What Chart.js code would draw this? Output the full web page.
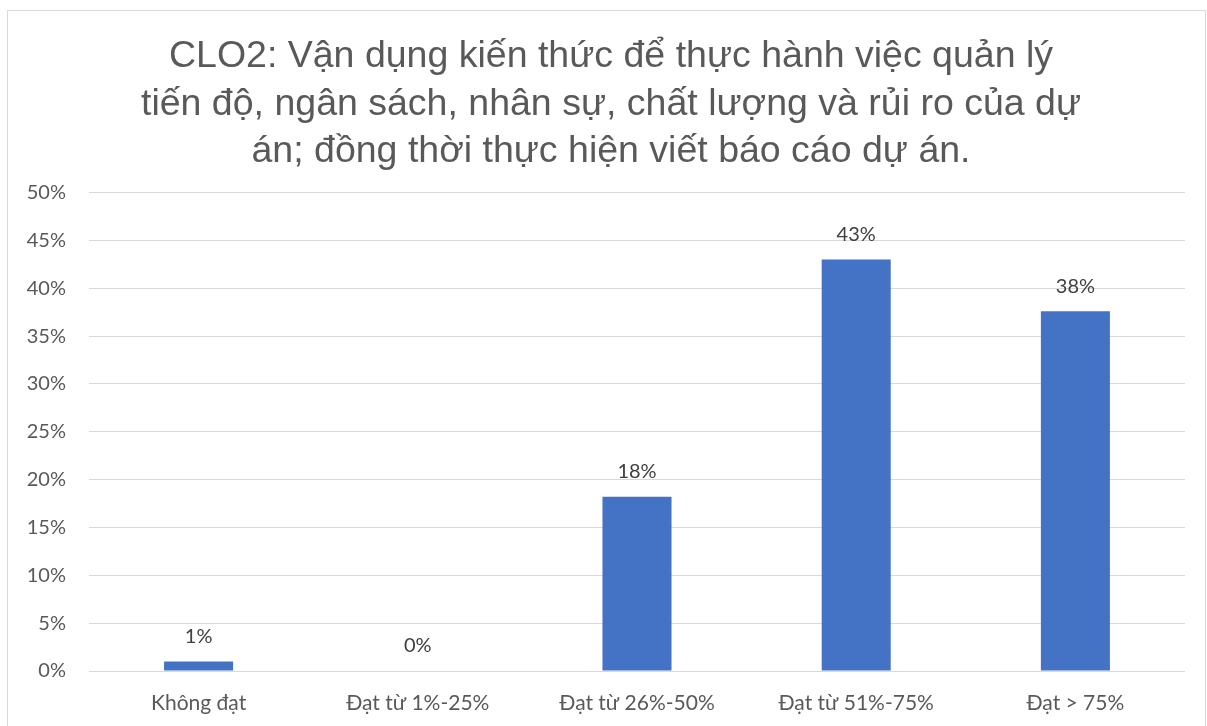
<!DOCTYPE html>
<html>
<head>
<meta charset="utf-8">
<script src="https://cdn.jsdelivr.net/npm/chart.js@4"></script>
<style>
  html, body { margin: 0; padding: 0; background: #ffffff; }
  #wrap { position: absolute; left: 0; top: 0; width: 1207px; height: 726px; }
  #frame { position: absolute; left: 7px; top: 10px; width: 1197px; height: 730px; border: 1px solid #d9d9d9; pointer-events: none; }
</style>
</head>
<body>
<div id="wrap"><canvas id="c" width="1207" height="726"></canvas></div>
<div id="frame"></div>
<script>
const titleLines = [
  "CLO2: Vận dụng kiến thức để thực hành việc quản lý",
  "tiến độ, ngân sách, nhân sự, chất lượng và rủi ro của dự",
  "án; đồng thời thực hiện viết báo cáo dự án."
];
const categories = ["Không đạt", "Đạt từ 1%-25%", "Đạt từ 26%-50%", "Đạt từ 51%-75%", "Đạt > 75%"];
const percentValues = [1.0, 0, 18.2, 43.0, 37.6];
const yMin = 0, yMax = 50, yStep = 5;

const labelFont = "Lato, 'Open Sans', sans-serif";

const dataLabels = {
  id: 'dataLabels',
  afterLayout(chart) {
    // center the title block over the framed chart area
    if (chart.titleBlock) { chart.titleBlock.left = 37; }
  },
  afterDatasetsDraw(chart) {
    const ctx = chart.ctx;
    const meta = chart.getDatasetMeta(0);
    ctx.save();
    ctx.font = "20px " + labelFont;
    ctx.fillStyle = "#404040";
    ctx.textAlign = "center";
    ctx.textBaseline = "middle";
    meta.data.forEach((bar, i) => {
      const v = chart.data.datasets[0].data[i];
      ctx.fillText(Math.round(v) + "%", bar.x, bar.y - 25);
    });
    ctx.restore();
  }
};

new Chart(document.getElementById('c'), {
  type: 'bar',
  data: {
    labels: categories,
    datasets: [{
      data: percentValues,
      backgroundColor: '#4472C4',
      borderWidth: 0,
      barPercentage: 0.63,
      categoryPercentage: 0.5
    }]
  },
  options: {
    responsive: false,
    animation: false,
    layout: { padding: { left: 0, right: 22, top: 0, bottom: 0 } },
    plugins: {
      legend: { display: false },
      tooltip: { enabled: false },
      title: {
        display: true,
        text: titleLines,
        color: '#595959',
        font: { family: "'Liberation Sans', Arial, sans-serif", size: 37.5, weight: 'normal', lineHeight: 1.267 },
        padding: { top: 33, bottom: 17 }
      }
    },
    scales: {
      x: {
        grid: { display: false, drawTicks: false },
        border: { display: false },
        ticks: { color: '#595959', font: { family: labelFont, size: 21 }, padding: 20, maxRotation: 0 },
        afterFit(scale) { scale.height = 55; }
      },
      y: {
        min: yMin, max: yMax,
        grid: { color: '#d9d9d9', lineWidth: 1, drawTicks: false },
        border: { display: false },
        ticks: {
          stepSize: yStep,
          color: '#595959',
          font: { family: labelFont, size: 20 },
          padding: 23,
          callback: v => v + '%'
        },
        afterFit(scale) { scale.width = 89; }
      }
    }
  },
  plugins: [dataLabels]
});
</script>
</body>
</html>
